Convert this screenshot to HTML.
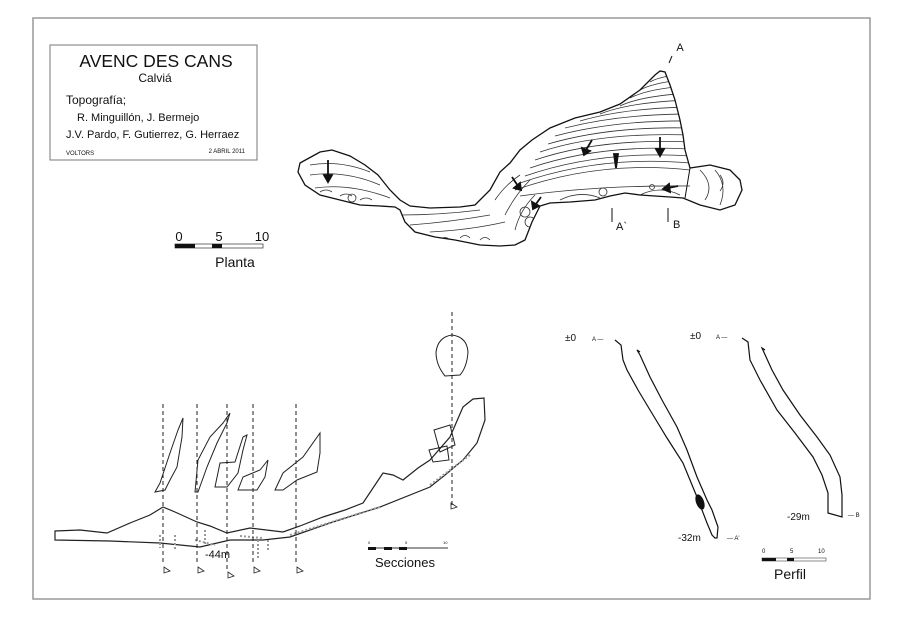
<!DOCTYPE html>
<html><head><meta charset="utf-8"><style>
html,body{margin:0;padding:0;background:#fff}
svg{display:block}
text{font-family:"Liberation Sans",sans-serif;fill:#111}
</style></head><body>
<svg width="900" height="622" viewBox="0 0 900 622" xmlns="http://www.w3.org/2000/svg">
<rect x="0" y="0" width="900" height="622" fill="#fff"/>
<rect x="33" y="18" width="837" height="581" fill="none" stroke="#999" stroke-width="1.5"/>
<rect x="50" y="45" width="207" height="115" fill="none" stroke="#777" stroke-width="1"/>
<text x="156" y="67" font-size="17.5" text-anchor="middle">AVENC DES CANS</text>
<text x="155" y="82" font-size="12" text-anchor="middle">Calviá</text>
<text x="66" y="104" font-size="12">Topografía;</text>
<text x="77" y="121" font-size="11">R. Minguillón, J. Bermejo</text>
<text x="66" y="138" font-size="11">J.V. Pardo, F. Gutierrez, G. Herraez</text>
<text x="66" y="155" font-size="6">VOLTORS</text>
<text x="245" y="153" font-size="6" text-anchor="end">2 ABRIL 2011</text>
<text x="179" y="241" font-size="13" text-anchor="middle">0</text>
<text x="219" y="241" font-size="13" text-anchor="middle">5</text>
<text x="262" y="241" font-size="13" text-anchor="middle">10</text>
<rect x="175" y="244" width="88" height="4" fill="#fff" stroke="#333" stroke-width="0.7"/>
<rect x="175" y="244" width="20" height="4" fill="#111"/>
<rect x="212" y="244" width="10" height="4" fill="#111"/>
<text x="235" y="267" font-size="14" text-anchor="middle">Planta</text>
<defs><clipPath id="cv"><path id="cvp" d="M300,163 L320,152 L332,150 L350,156 L365,165 L378,175 L390,190 L400,200 L410,206 L430,208 L460,207 L475,205 L490,190 L500,172 L510,163 L520,150 L532,140 L550,128 L575,118 L600,112 L620,104 L640,90 L655,75 L660,71 L665,72 L670,85 L675,100 L680,120 L683,135 L685,150 L690,168 L710,165 L730,170 L740,180 L742,190 L735,205 L720,210 L700,205 L683,198 L670,197 L655,196 L640,195 L625,193 L610,196 L595,200 L570,202 L550,203 L540,206 L532,222 L525,240 L515,245 L500,246 L480,245 L455,240 L435,237 L415,232 L405,222 L400,210 L395,207 L380,206 L360,205 L340,200 L320,195 L305,185 L298,172 Z"/></clipPath></defs>
<g clip-path="url(#cv)" fill="none" stroke="#333" stroke-width="0.8">
<path d="M515,190 Q600,160 690,170"/><path d="M520,183 Q600,155 690,163"/><path d="M525,176 Q600,150 690,156"/>
<path d="M530,168 Q600,144 690,149"/><path d="M535,160 Q600,138 690,142"/><path d="M540,152 Q600,132 690,135"/>
<path d="M548,144 Q610,126 690,128"/><path d="M555,136 Q615,120 690,121"/><path d="M565,128 Q620,114 690,114"/>
<path d="M580,121 Q625,108 690,107"/><path d="M600,114 Q630,102 690,100"/><path d="M620,106 Q640,96 690,93"/>
<path d="M630,98 Q650,88 690,86"/><path d="M640,90 Q655,82 690,79"/><path d="M650,82 Q660,76 690,73"/>
<path d="M520,196 Q600,185 690,186"/>
<path d="M310,165 Q340,160 370,172"/><path d="M310,175 Q345,170 380,185"/><path d="M315,188 Q350,183 390,198"/>
<path d="M400,215 Q440,215 480,210"/><path d="M410,225 Q450,222 490,215"/><path d="M430,232 Q470,230 505,222"/>
<path d="M495,200 Q505,185 520,175"/><path d="M505,215 Q515,195 530,180"/><path d="M515,230 Q520,210 535,195"/>
<path d="M560,200 Q580,190 600,198"/><path d="M640,195 Q660,185 680,195"/>
<path d="M440,240 q5,-5 10,0 M460,238 q5,-5 10,0 M480,240 q5,-5 10,0 M320,192 q6,-4 12,0 M340,196 q6,-4 12,0 M360,200 q6,-4 12,0"/>
<path d="M700,170 Q715,185 705,200 M715,170 Q728,185 720,205 M720,175 q6,8 0,16"/>
<circle cx="525" cy="212" r="5"/><circle cx="530" cy="222" r="5"/><circle cx="352" cy="198" r="4"/><circle cx="603" cy="192" r="4"/><circle cx="652" cy="187" r="2.5"/>
</g>
<use href="#cvp" fill="none" stroke="#111" stroke-width="1.3"/>
<line x1="690" y1="168" x2="685" y2="198" stroke="#111" stroke-width="1"/>
<g stroke="#111" stroke-width="1.8" fill="#111">
<line x1="328" y1="160" x2="328" y2="177"/><path d="M324,175 L328,182 L332,175Z"/>
<line x1="592" y1="140" x2="586" y2="150"/><path d="M582,148 L584,155 L590,151Z"/>
<line x1="660" y1="137" x2="660" y2="150"/><path d="M656,149 L660,156 L664,149Z"/>
<line x1="512" y1="177" x2="518" y2="186"/><path d="M514,188 L521,190 L520,183Z"/>
<line x1="541" y1="197" x2="536" y2="204"/><path d="M532,202 L533,209 L539,206Z"/>
<line x1="678" y1="186" x2="668" y2="188"/><path d="M669,184 L663,189 L670,192Z"/>
<path d="M614,154 L618,154 L616,168Z"/>
</g>
<text x="680" y="51" font-size="11" text-anchor="middle">A</text>
<line x1="672" y1="56" x2="669" y2="63" stroke="#111"/>
<line x1="612" y1="208" x2="612" y2="222" stroke="#111"/><text x="616" y="230" font-size="11">A`</text>
<line x1="668" y1="208" x2="668" y2="222" stroke="#111"/><text x="673" y="228" font-size="11">B</text>
<path d="M55,531 L80,530 L107,533 L130,523 L150,515 L163,507 L175,512 L197,522 L210,526 L227,533 L250,528 L283,532 L300,526 L323,517 L345,510 L363,503 L383,473 L393,475 L403,480 L418,468 L430,460 L450,437 L463,407 L473,399 L484,398 L485,420 L477,443 L463,460 L445,475 L430,487 L380,507 L330,523 L290,537 L263,540 L230,540 L200,547 L160,543 L110,541 L55,540 Z" fill="none" stroke="#222" stroke-width="1.2"/>
<g stroke="#999" stroke-width="2" stroke-dasharray="2,2" fill="none">
<path d="M160,535 L160,548 M195,540 L215,545 M205,530 L205,545 M240,536 L262,538 M258,540 L258,558 M268,540 L268,552 M175,535 L175,550 M290,535 L380,507 M430,485 L470,455"/>
</g>
<g stroke="#222" stroke-width="1" stroke-dasharray="4,3">
<line x1="163" y1="404" x2="163" y2="565"/><line x1="197" y1="404" x2="197" y2="565"/>
<line x1="227" y1="404" x2="227" y2="570"/><line x1="253" y1="404" x2="253" y2="565"/>
<line x1="296" y1="404" x2="296" y2="565"/><line x1="452" y1="312" x2="452" y2="505"/>
</g>
<g fill="none" stroke="#222" stroke-width="0.8">
<path d="M164,567 v6 l6,-2z"/><path d="M198,567 v6 l6,-2z"/><path d="M228,572 v6 l6,-2z"/><path d="M254,567 v6 l6,-2z"/><path d="M297,567 v6 l6,-2z"/><path d="M451,503 v6 l6,-2z"/>
</g>
<g fill="none" stroke="#222" stroke-width="1">
<path d="M155,492 L160,483 L170,453 L178,430 L183,418 L182,437 L177,467 L170,480 L165,490 Z"/>
<path d="M195,492 L198,460 L210,437 L223,423 L230,413 L227,423 L217,443 L207,467 L198,492 Z"/>
<path d="M215,487 L220,463 L235,462 L243,437 L247,435 L243,450 L238,473 L227,487 Z"/>
<path d="M238,490 L243,477 L260,470 L268,460 L265,477 L257,490 Z"/>
<path d="M275,490 L283,473 L303,457 L320,433 L320,453 L317,472 L297,480 L283,490 Z"/>
<path d="M452,335 Q467,337 468,352 Q467,367 460,375 L445,376 Q436,365 436,352 Q438,337 452,335 Z"/>
<path d="M434,430 L450,425 L455,445 L440,452 Z"/><path d="M429,450 L447,446 L449,460 L433,462 Z"/>
</g>
<text x="205" y="558" font-size="11">-44m</text>
<text x="368" y="544" font-size="4">0</text><text x="405" y="544" font-size="4">5</text><text x="443" y="544" font-size="4">10</text>
<line x1="368" y1="548" x2="448" y2="548" stroke="#333" stroke-width="1"/>
<rect x="368" y="547" width="8" height="3" fill="#111"/><rect x="384" y="547" width="8" height="3" fill="#111"/><rect x="399" y="547" width="8" height="3" fill="#111"/>
<text x="405" y="567" font-size="13" text-anchor="middle">Secciones</text>
<g fill="none" stroke="#111" stroke-width="1.2">
<path d="M615,340 L621,345 L623,360 L627,370 L638,390 L650,410 L667,438 L683,463 L697,497 L707,523 L712,535 L715,538 L717,538 L718,527 L712,510 L707,500 L697,477 L687,450 L677,427 L662,400 L650,377 L640,355 L637,350 L640,352"/>
<path d="M742,338 L748,342 L750,360 L760,380 L777,410 L795,433 L813,457 L822,475 L828,493 L828,513 L842,517 L842,495 L840,477 L830,455 L817,437 L800,415 L783,390 L772,370 L762,348 L765,350"/>
</g>
<ellipse cx="700" cy="502" rx="4" ry="8" transform="rotate(-20 700 502)" fill="#111"/>
<text x="565" y="341" font-size="10">±0</text><text x="592" y="341" font-size="6">A —</text>
<text x="690" y="339" font-size="10">±0</text><text x="716" y="339" font-size="6">A —</text>
<text x="678" y="541" font-size="10">-32m</text><text x="727" y="540" font-size="6">— A'</text>
<text x="787" y="520" font-size="10">-29m</text><text x="848" y="517" font-size="6">— B</text>
<text x="762" y="553" font-size="6">0</text><text x="790" y="553" font-size="6">5</text><text x="818" y="553" font-size="6">10</text>
<rect x="762" y="558" width="64" height="3" fill="#fff" stroke="#444" stroke-width="0.6"/>
<rect x="762" y="558" width="14" height="3" fill="#111"/><rect x="787" y="558" width="7" height="3" fill="#111"/>
<text x="790" y="579" font-size="14" text-anchor="middle">Perfil</text>
</svg>
</body></html>
